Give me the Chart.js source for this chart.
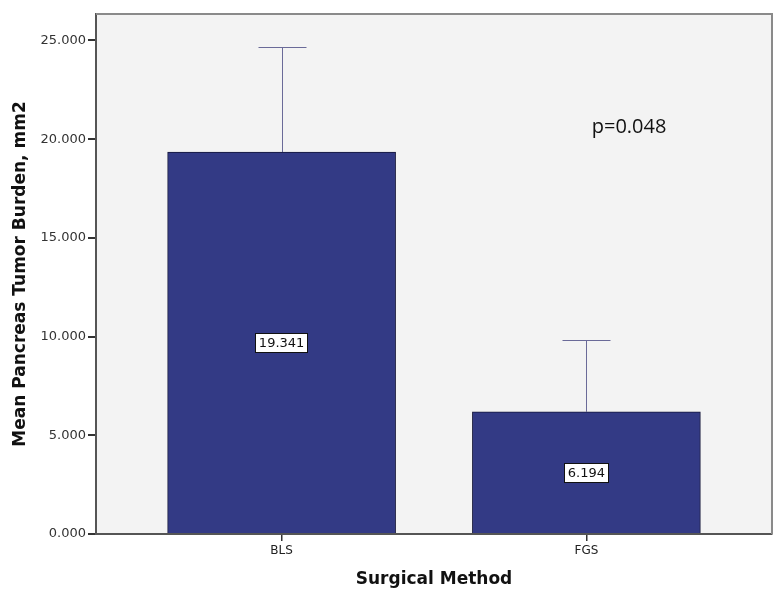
<!DOCTYPE html>
<html>
<head>
<meta charset="utf-8">
<script src="https://cdn.jsdelivr.net/npm/chart.js@4/dist/chart.umd.min.js"></script>
<style>
  html,body{margin:0;padding:0;background:#fff;}
  #wrap{width:782px;height:602px;}
</style>
</head>
<body>
<div id="wrap"><canvas id="c" width="782" height="602"></canvas></div>
<script>
const categories = ['BLS', 'FGS'];
const means = [19.341, 6.194];
const errorUpper = [24.65, 9.82];
const yTicks = [0, 5, 10, 15, 20, 25];
const annotationText = 'p=0.048';
const annotationPos = {x: 1.14, y: 20.6};

const points = categories.map((c, i) => ({x: i, y: means[i]}));

const extras = {
  id: 'extras',
  beforeDraw(chart) {
    const {ctx, chartArea: a} = chart;
    ctx.save();
    ctx.fillStyle = '#f3f3f3';
    ctx.fillRect(a.left, a.top, a.right - a.left, a.bottom - a.top);
    ctx.restore();
  },
  beforeDatasetsDraw(chart) {
    const {ctx, scales: {x, y}} = chart;
    ctx.save();
    ctx.strokeStyle = '#6a6a98';
    ctx.lineWidth = 1;
    categories.forEach((c, i) => {
      const px = Math.round(x.getPixelForValue(i)) + 0.5;
      const pt = Math.round(y.getPixelForValue(errorUpper[i])) + 0.5;
      const pb = y.getPixelForValue(means[i]);
      ctx.beginPath();
      ctx.moveTo(px, pb);
      ctx.lineTo(px, pt);
      ctx.moveTo(px - 24, pt);
      ctx.lineTo(px + 24, pt);
      ctx.stroke();
    });
    ctx.restore();
  },
  afterDatasetsDraw(chart) {
    const {ctx, scales: {x, y}, chartArea: a} = chart;
    ctx.save();
    ctx.font = '13px "DejaVu Sans"';
    ctx.textAlign = 'center';
    ctx.textBaseline = 'middle';
    categories.forEach((c, i) => {
      const txt = means[i].toFixed(3);
      const px = x.getPixelForValue(i);
      const py = y.getPixelForValue(means[i] / 2);
      const w = ctx.measureText(txt).width + 8;
      const h = 20;
      ctx.fillStyle = '#ffffff';
      ctx.fillRect(Math.round(px - w / 2), Math.round(py - h / 2), Math.round(w), h);
      ctx.strokeStyle = '#111';
      ctx.lineWidth = 1;
      ctx.strokeRect(Math.round(px - w / 2) + 0.5, Math.round(py - h / 2) + 0.5, Math.round(w) - 1, h - 1);
      ctx.fillStyle = '#111';
      ctx.fillText(txt, px, py + 1);
    });
    ctx.font = '20px "Open Sans"';
    ctx.fillStyle = '#111';
    ctx.fillText(annotationText, x.getPixelForValue(annotationPos.x), y.getPixelForValue(annotationPos.y));
    // top and right frame
    ctx.strokeStyle = '#8a8a8a';
    ctx.lineWidth = 2;
    ctx.beginPath();
    ctx.moveTo(a.left, a.top);
    ctx.lineTo(a.right, a.top);
    ctx.lineTo(a.right, a.bottom);
    ctx.stroke();
    ctx.restore();
  }
};

new Chart(document.getElementById('c'), {
  type: 'bar',
  data: {
    datasets: [{
      data: points,
      backgroundColor: '#333a85',
      borderColor: '#15163a',
      borderWidth: 1,
      barThickness: 228
    }]
  },
  options: {
    responsive: false,
    animation: false,
    layout: {padding: {top: 14, right: 10, left: 0, bottom: 0}},
    plugins: {legend: {display: false}, tooltip: {enabled: false}},
    scales: {
      x: {
        type: 'linear',
        min: -0.609,
        max: 1.609,
        offset: false,
        afterBuildTicks(scale) { scale.ticks = categories.map((c, i) => ({value: i})); },
        afterFit(scale) { scale.height = 68; },
        ticks: {
          callback: (v) => categories[v] ?? '',
          font: {family: 'DejaVu Sans', size: 12},
          color: '#222',
          padding: 3,
          maxRotation: 0
        },
        grid: {offset: false, drawOnChartArea: false, drawTicks: true, tickLength: 7, color: '#333', lineWidth: 1.5},
        border: {display: true, color: '#555', width: 2},
        title: {display: true, text: 'Surgical Method', font: {family: 'DejaVu Sans', size: 17, weight: 'bold'}, color: '#111', padding: {top: 8, bottom: 12}}
      },
      y: {
        min: 0,
        max: 26.34,
        afterBuildTicks(scale) { scale.ticks = yTicks.map(v => ({value: v})); },
        afterFit(scale) { scale.width = 96; },
        ticks: {
          callback: (v) => Number(v).toFixed(3),
          font: {family: 'DejaVu Sans', size: 13},
          color: '#333',
          padding: 2
        },
        grid: {drawOnChartArea: false, drawTicks: true, tickLength: 8, color: '#333', lineWidth: 2},
        border: {display: true, color: '#555', width: 2},
        title: {display: true, text: 'Mean Pancreas Tumor Burden, mm2', font: {family: 'DejaVu Sans', size: 17, weight: 'bold'}, color: '#111', padding: {top: 10, bottom: 10}}
      }
    }
  },
  plugins: [extras]
});
</script>
</body>
</html>
